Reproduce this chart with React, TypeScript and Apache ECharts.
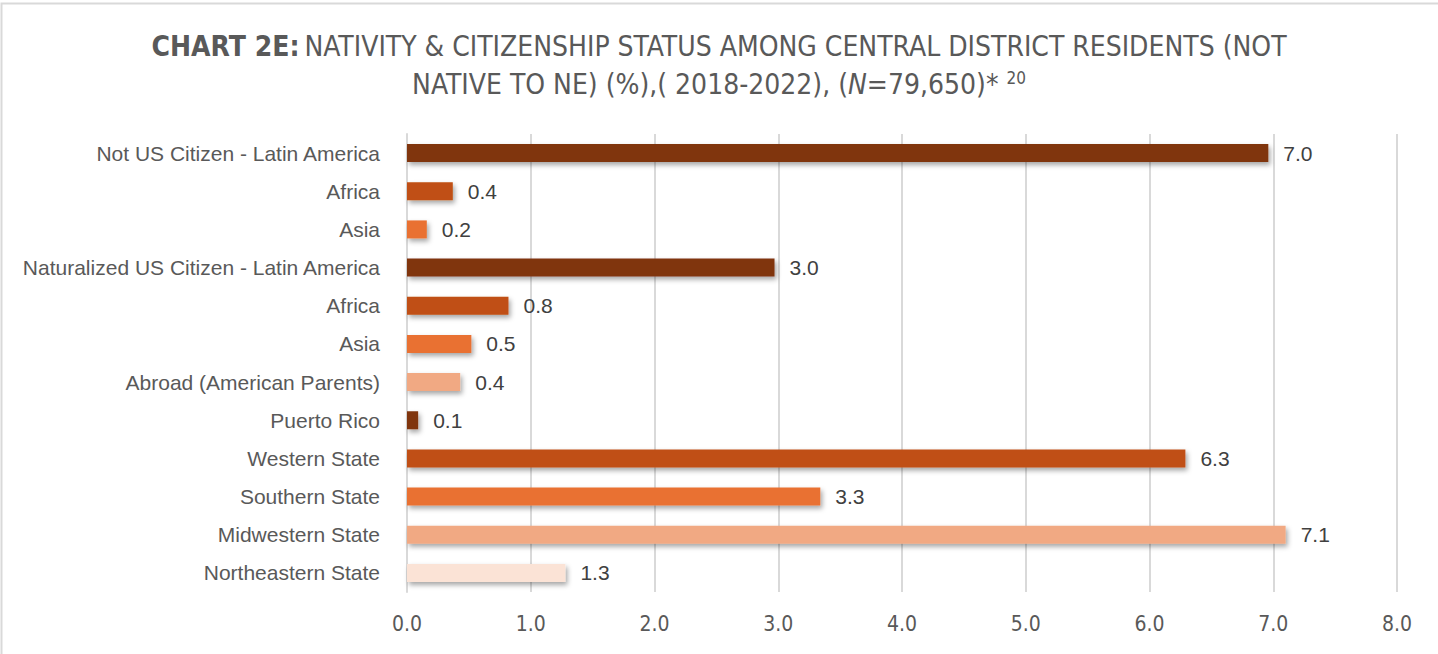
import React, { useEffect, useRef } from "react";
import * as echarts from "echarts";

const categories = [
  "Not US Citizen - Latin America",
  "Africa",
  "Asia",
  "Naturalized US Citizen - Latin America",
  "Africa ",
  "Asia ",
  "Abroad (American Parents)",
  "Puerto Rico",
  "Western State",
  "Southern State",
  "Midwestern State",
  "Northeastern State",
];
const values = [6.96, 0.37, 0.16, 2.97, 0.82, 0.52, 0.43, 0.09, 6.29, 3.34, 7.1, 1.28];
const barColors = [
  "#80350E", "#C04F15", "#E97132",
  "#80350E", "#C04F15", "#E97132", "#F1A983",
  "#80350E", "#C04F15", "#E97132", "#F1A983", "#FBE3D6",
];
const xTicks = { min: 0, max: 8, interval: 1 };
const titleLine1 = "NATIVITY & CITIZENSHIP STATUS AMONG CENTRAL DISTRICT RESIDENTS (NOT";
const titleLine2 = "NATIVE TO NE) (%),( 2018-2022), (";

const narrow = '"Liberation Sans Narrow", "DejaVu Sans Condensed", "Liberation Sans", sans-serif';
const labelFont = '"Liberation Sans", Arial, sans-serif';

export default function App() {
  const ref = useRef<HTMLDivElement>(null);
  useEffect(() => {
    document.body.style.margin = "0";
    const chart = echarts.init(ref.current!, null, { renderer: "svg" });
    chart.setOption({
      animation: false,
      backgroundColor: "#ffffff",
      title: [
        {
          left: "center",
          top: 27,
          text: "{b|CHART 2E:} {n|" + titleLine1 + "}",
          textStyle: {
            fontWeight: "normal",
            rich: {
              b: { fontFamily: narrow, fontSize: 28, fontWeight: "bold", color: "#595959" },
              n: { fontFamily: narrow, fontSize: 28, fontWeight: "normal", color: "#595959" },
            },
          },
        },
        {
          left: "center",
          top: 64,
          text: "{n|" + titleLine2 + "}{i|N}{n|=79,650)* }{s|20}",
          textStyle: {
            fontWeight: "normal",
            rich: {
              n: { fontFamily: narrow, fontSize: 28, fontWeight: "normal", color: "#595959", verticalAlign: "bottom" },
              i: { fontFamily: narrow, fontSize: 28, fontWeight: "normal", fontStyle: "italic", color: "#595959", verticalAlign: "bottom" },
              s: { fontFamily: narrow, fontSize: 17, fontWeight: "normal", color: "#595959", verticalAlign: "top", padding: [0, 0, 12, 0] },
            },
          },
        },
      ],
      graphic: [
        {
          type: "polyline",
          shape: { points: [[1.5, 660], [1.5, 3.5], [1440, 3.5]] },
          style: { stroke: "#D9D9D9", lineWidth: 2, fill: "none" },
          silent: true,
        },
      ],
      grid: { left: 407, right: 41, top: 134, bottom: 62, containLabel: false },
      xAxis: {
        type: "value",
        min: xTicks.min,
        max: xTicks.max,
        interval: xTicks.interval,
        axisLine: { show: false },
        axisTick: { show: false },
        splitLine: { show: true, lineStyle: { color: "#D9D9D9", width: 2 } },
        axisLabel: {
          formatter: (v: number) => v.toFixed(1),
          color: "#595959",
          fontFamily: narrow,
          fontSize: 21,
          margin: 21,
        },
      },
      yAxis: {
        type: "category",
        inverse: true,
        data: categories,
        axisLine: { show: true, lineStyle: { color: "#D9D9D9", width: 2 } },
        axisTick: { show: false },
        axisLabel: {
          color: "#595959",
          fontFamily: labelFont,
          fontSize: 21,
          margin: 27,
          formatter: (v: string) => v.trim(),
        },
      },
      series: [
        {
          type: "bar",
          barWidth: 18,
          data: values.map((v, i) => ({
            value: v,
            itemStyle: { color: barColors[i] },
          })),
          itemStyle: {
            shadowColor: "rgba(0,0,0,0.35)",
            shadowBlur: 5,
            shadowOffsetX: 2,
            shadowOffsetY: 3,
          },
          label: {
            show: true,
            position: "right",
            distance: 15,
            color: "#404040",
            fontFamily: labelFont,
            fontSize: 21,
            formatter: (p: any) => Number(p.value).toFixed(1),
          },
        },
      ],
    });
    return () => chart.dispose();
  }, []);
  return <div ref={ref} style={{ position: "absolute", left: 0, top: 0, width: 1438, height: 654 }} />;
}
